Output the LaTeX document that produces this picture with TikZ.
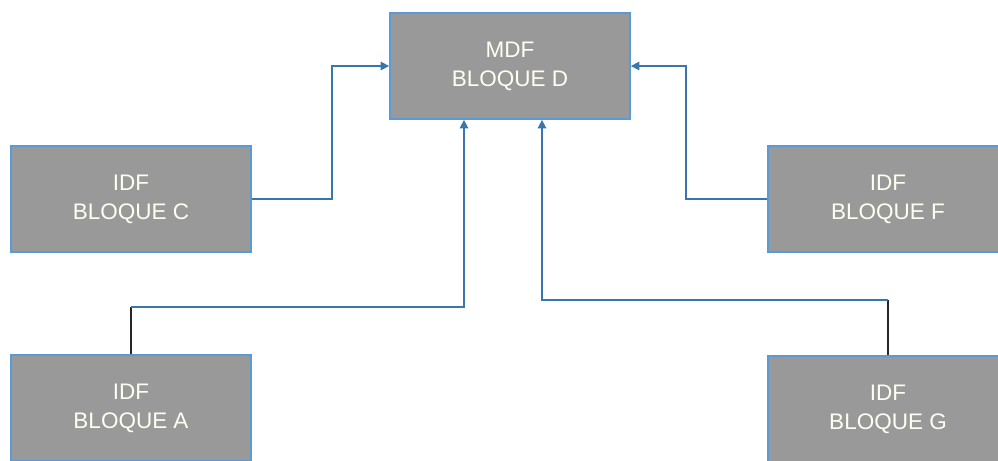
\documentclass[tikz,border=0pt]{standalone}
\usepackage{fontspec}
\setmainfont{Liberation Sans}
\usetikzlibrary{arrows.meta}
\definecolor{boxgray}{HTML}{999999}
\definecolor{boxedge}{HTML}{5B9BD5}
\definecolor{linkblue}{HTML}{3A76AE}
\tikzset{
  bloque/.style={draw=boxedge, fill=boxgray, line width=1.2pt, minimum width=6cm, minimum height=2.65cm,
    inner sep=0pt, align=center, text=white!95!yellow, font=\fontsize{16}{20.5}\selectfont},
  enlace/.style={draw=linkblue, line width=1pt, -{Triangle[length=6pt,width=6pt]}},
  tramo/.style={draw=black!85, line width=0.9pt}
}
\begin{document}
\begin{tikzpicture}[x=0.025cm, y=-0.025cm]
    \useasboundingbox (0,0) rectangle (998,460);
    \node[bloque] (mdf) at (510,66) {MDF\\BLOQUE D};
    \node[bloque] (idfc) at (131,199) {IDF\\BLOQUE C};
    \node[bloque] (idff) at (888,199) {IDF\\BLOQUE F};
    \node[bloque] (idfa) at (131,408) {IDF\\BLOQUE A};
    \node[bloque] (idfg) at (888,409) {IDF\\BLOQUE G};
    \coordinate (pa) at (464,307);
    \coordinate (pg) at (542,300);
    \draw[enlace] (idfc.east) -- ++(80,0) |- (mdf.west);
    \draw[enlace] (idff.west) -- ++(-81,0) |- (mdf.east);
    \draw[tramo] (idfa.north) -- (idfa.north |- pa);
    \draw[enlace] (idfa.north |- pa) -- (pa) -- (pa |- mdf.south);
    \draw[tramo] (idfg.north) -- (idfg.north |- pg);
    \draw[enlace] (idfg.north |- pg) -- (pg) -- (pg |- mdf.south);
\end{tikzpicture}
\end{document}
